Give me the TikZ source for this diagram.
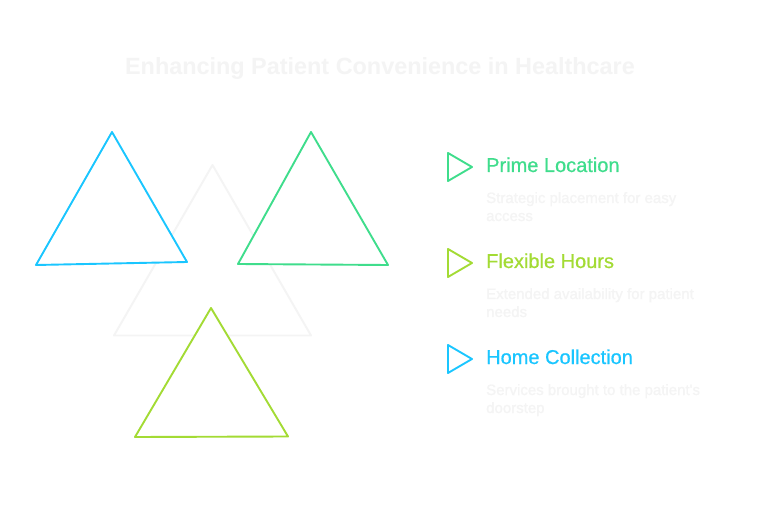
\documentclass[tikz,border=0pt]{standalone}
\usepackage{fontspec}
\setmainfont{Liberation Sans}
\newfontfamily\medfont[FakeBold=0.6]{Liberation Sans}
\definecolor{cblue}{HTML}{1AC6FF}
\definecolor{cgreen}{HTML}{3FDD8C}
\definecolor{clime}{HTML}{A3DB34}
\definecolor{cpale}{HTML}{F4F4F4}
\tikzset{
  x=1pt,y=-1pt,
  tri/.style={line width=1.9pt,line join=round,fill=white},
  titlelabel/.style={anchor=base,inner sep=0pt,text=cpale,font=\fontsize{23.4}{28}\selectfont\bfseries},
  headlabel/.style={anchor=base west,inner sep=0pt,font=\medfont\fontsize{20}{24}\selectfont},
  desclabel/.style={anchor=base west,inner sep=0pt,text=cpale,font=\medfont\fontsize{15}{18}\selectfont},
}
\begin{document}
\begin{tikzpicture}
\useasboundingbox (0,0) rectangle (760,510);
\fill[white] (0,0) rectangle (760,510);
\node[titlelabel] (title) at (380,75) {Enhancing Patient Convenience in Healthcare};
% central pale triangle, then the three coloured ones over it
\draw[tri,draw=cpale] (212.5,165) -- (114,335.5) -- (311,335.5) -- cycle;
\draw[tri,draw=cblue] (112,132) -- (36,265) -- (187,262) -- cycle;
\draw[tri,draw=cgreen] (311,132) -- (238,264) -- (388,265) -- cycle;
\draw[tri,draw=clime] (211,308) -- (135,437) -- (288,436.5) -- cycle;
% legend markers
\draw[tri,draw=cgreen] (448,153) -- (472,167) -- (448,181) -- cycle;
\draw[tri,draw=clime] (448,249) -- (472,263) -- (448,277) -- cycle;
\draw[tri,draw=cblue] (448,345) -- (472,359) -- (448,373) -- cycle;
% legend texts
\node[headlabel,text=cgreen] (h1) at (486,172) {Prime Location};
\node[desclabel] (d1a) at (486,203) {Strategic placement for easy};
\node[desclabel] (d1b) at (486,221) {access};
\node[headlabel,text=clime] (h2) at (486,268) {Flexible Hours};
\node[desclabel] (d2a) at (486,299) {Extended availability for patient};
\node[desclabel] (d2b) at (486,317) {needs};
\node[headlabel,text=cblue] (h3) at (486,364) {Home Collection};
\node[desclabel] (d3a) at (486,395) {Services brought to the patient's};
\node[desclabel] (d3b) at (486,413) {doorstep};
\end{tikzpicture}
\end{document}
